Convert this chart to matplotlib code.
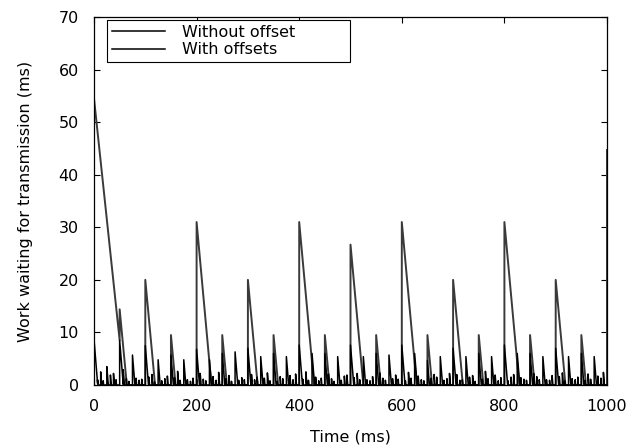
import matplotlib
matplotlib.use("Agg")
import matplotlib.pyplot as plt

plt.rcParams['font.family'] = ['DejaVu Sans']

# ---- "Without offset" sawtooth ----
wo_peak_t = [0, 50, 100, 150, 200, 250, 300, 350, 400, 450, 500,
             550, 600, 650, 700, 750, 800, 850, 900, 950, 1000]
wo_peak_v = [54.5, 14.4, 20.0, 9.5, 31.0, 9.5, 20.0, 9.5, 31.0, 9.5, 26.7,
             9.5, 31.0, 9.5, 20.0, 9.5, 31.0, 9.5, 20.0, 9.5, 44.7]
wo_start_v = [54.5, 8.5, 0, 0, 0, 0, 0, 0, 0, 0, 0,
              0, 0, 0, 0, 0, 0, 0, 0, 0, 0]
wo_end_t = [50, 64, 119, 159, 229, 259, 319, 359, 429, 459, 525,
            559, 629, 659, 719, 759, 829, 859, 919, 959, 1000]
wo_end_v = [8.5, 0, 0, 0, 0, 0, 0, 0, 0, 0, 0,
            0, 0, 0, 0, 0, 0, 0, 0, 0, 44.7]

# ---- "With offsets" spikes ----
main_t = [0, 25, 50, 75, 100, 125, 150, 175, 200, 225, 250, 275,
          300, 325, 350, 375, 400, 425, 450, 475, 500, 525, 550, 575,
          600, 625, 650, 675, 700, 725, 750, 775, 800, 825, 850, 875,
          900, 925, 950, 975]
main_v = [8.7, 3.5, 8.5, 5.7, 7.5, 4.8, 5.7, 4.8, 6.8, 4.8, 6.0, 6.3,
          7.0, 5.4, 6.0, 5.4, 7.6, 6.0, 6.0, 5.4, 7.6, 5.4, 6.0, 5.7,
          7.6, 6.0, 4.7, 5.4, 7.0, 5.4, 6.0, 5.4, 7.6, 6.0, 6.0, 5.4,
          7.0, 5.4, 6.0, 5.4]
small_t = [
    7, 13, 18, 32, 38, 43, 57, 63, 68, 82, 88, 93,
    107, 113, 118, 132, 138, 143, 157, 163, 168, 182, 188, 193,
    207, 213, 218, 232, 238, 243, 257, 263, 268, 282, 288, 293,
    307, 313, 318, 332, 338, 343, 357, 363, 368, 382, 388, 393,
    407, 413, 418, 432, 438, 443, 457, 463, 468, 482, 488, 493,
    507, 513, 518, 532, 538, 543, 557, 563, 568, 582, 588, 593,
    607, 613, 618, 632, 638, 643, 657, 663, 668, 682, 688, 693,
    707, 713, 718, 732, 738, 743, 757, 763, 768, 782, 788, 793,
    807, 813, 818, 832, 838, 843, 857, 863, 868, 882, 888, 893,
    907, 913, 918, 932, 938, 943, 957, 963, 968, 982, 988, 993]
small_v = [
    1.0, 2.5, 0.8, 1.9, 2.2, 1.0, 2.9, 1.2, 0.7, 1.3, 0.9, 1.1,
    1.5, 2.0, 0.6, 0.8, 1.2, 1.7, 1.4, 2.6, 0.9, 1.0, 0.7, 1.3,
    2.2, 1.1, 0.8, 1.6, 0.9, 2.4, 1.2, 1.8, 0.7, 0.9, 1.4, 1.0,
    2.0, 1.0, 1.5, 1.3, 2.3, 0.8, 0.7, 1.6, 1.2, 1.8, 1.0, 2.1,
    1.1, 2.5, 0.9, 1.5, 0.8, 1.3, 2.1, 1.2, 0.7, 0.9, 1.7, 1.9,
    1.4, 2.2, 1.0, 1.0, 0.8, 1.6, 2.3, 1.3, 0.9, 1.2, 1.9, 1.1,
    0.8, 2.4, 1.3, 1.7, 1.0, 0.8, 1.3, 2.0, 1.5, 0.9, 1.2, 2.2,
    2.0, 0.9, 1.0, 1.5, 1.8, 0.7, 1.1, 2.6, 1.2, 1.9, 0.8, 1.4,
    0.8, 1.5, 2.0, 1.4, 1.1, 0.9, 2.2, 1.6, 1.0, 1.0, 0.9, 1.8,
    1.6, 2.3, 0.8, 1.2, 1.0, 1.5, 0.9, 2.1, 1.1, 1.7, 1.3, 2.4]

x_ticks = [0, 200, 400, 600, 800, 1000]
y_ticks = [0, 10, 20, 30, 40, 50, 60, 70]

# build "without offset" polyline
wx, wy = [], []
for t0, sv, pv, te, ev in zip(wo_peak_t, wo_start_v, wo_peak_v, wo_end_t, wo_end_v):
    wx += [t0, t0, te]
    wy += [sv, pv, ev]

# build "with offsets" polyline: vertical rise then linear decay
decay = 1.2
spikes = sorted(zip(main_t + small_t, main_v + small_v))
bx, by = [0], [0]
level = 0.0
for i, (t, h) in enumerate(spikes):
    h = max(h, level)
    bx += [t, t]
    by += [level, h]
    t_next = spikes[i + 1][0] if i + 1 < len(spikes) else 1000
    t_zero = t + h / decay
    if t_zero <= t_next:
        bx += [t_zero, t_next]
        by += [0, 0]
        level = 0.0
    else:
        level = h - decay * (t_next - t)
        bx += [t_next]
        by += [level]

fig = plt.figure(figsize=(6.31, 4.48), dpi=100)
ax = fig.add_axes([94 / 631, 1 - 385 / 448, 513 / 631, 368 / 448])

ax.plot(wx, wy, color='#3a3a3a', lw=1.4, label='Without offset')
ax.plot(bx, by, color='black', lw=1.1, label='With offsets')

ax.set_xlim(0, 1000)
ax.set_ylim(0, 70)
ax.set_xticks(x_ticks)
ax.set_yticks(y_ticks)
ax.tick_params(direction='in', top=True, right=True, length=4, width=0.8,
               labelsize=11.5)
ax.tick_params(axis='x', pad=10)
ax.tick_params(axis='y', pad=11)
for s in ax.spines.values():
    s.set_linewidth(0.9)
ax.set_xlabel('Time (ms)', fontsize=11.5, labelpad=11)
ax.set_ylabel('Work waiting for transmission (ms)', fontsize=11.5, labelpad=18)

x0 = (107 - 94) / 513
w = (350 - 107) / 513
leg = ax.legend(loc='upper left', bbox_to_anchor=(x0, 0.992, w, 0.0),
                mode='expand', borderaxespad=0,
                fontsize=11.5, frameon=True, fancybox=False, edgecolor='black',
                framealpha=1, handlelength=3.3, handletextpad=1.1,
                borderpad=0.3, labelspacing=0.15)
leg.get_frame().set_linewidth(0.8)
for l in leg.get_lines():
    l.set_linewidth(1.1)
    l.set_color('black')

fig.savefig('out.png', dpi=100)
